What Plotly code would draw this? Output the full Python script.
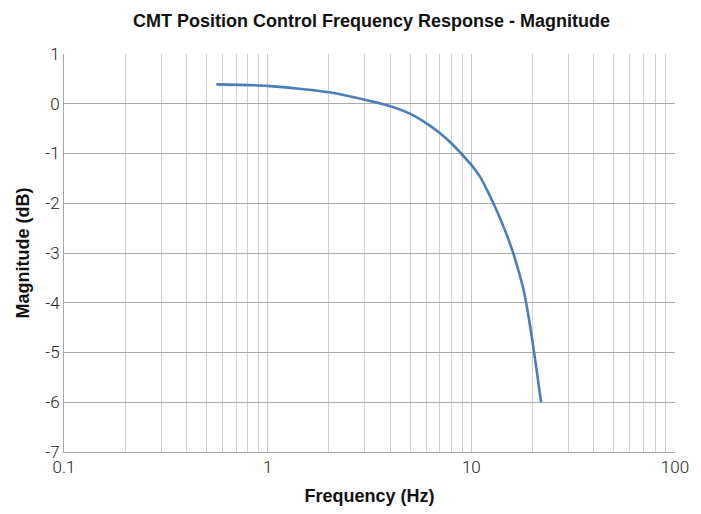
import plotly.graph_objects as go

# Measured closed-loop magnitude response
freq_hz = [0.56, 1, 2, 3, 4, 5, 6, 7, 8, 9, 10, 11, 12, 13, 14, 15, 16, 17, 18, 19, 20, 21, 22]
magnitude_db = [0.39, 0.36, 0.23, 0.08, -0.05, -0.20, -0.39, -0.59, -0.80, -1.02, -1.23, -1.46,
                -1.75, -2.05, -2.35, -2.66, -2.98, -3.34, -3.72, -4.22, -4.80, -5.40, -6.00]

x_tick_vals = [0.1, 1, 10, 100]
x_tick_text = ["0.1", "1", "10", "100"]
y_tick_vals = [-7, -6, -5, -4, -3, -2, -1, 0, 1]
y_tick_text = ["-7", "-6", "-5", "-4", "-3", "-2", "-1", "0", "1"]

title_font = dict(family="Liberation Sans Narrow, Arial Narrow, Liberation Sans", size=18, color="#111111")
tick_font = dict(family="Roboto, Liberation Sans, Arial", size=17, color="#222222", weight=300)

fig = go.Figure()
fig.add_trace(go.Scatter(
    x=freq_hz, y=magnitude_db, mode="lines",
    line=dict(color="#4a7ebb", width=2.6, shape="spline", smoothing=0.6),
    showlegend=False,
))

fig.update_layout(
    width=701, height=514,
    margin=dict(l=64, r=25, t=54, b=60),
    paper_bgcolor="white", plot_bgcolor="white",
    title=dict(text="<b>CMT Position Control Frequency Response - Magnitude</b>",
               x=0.53, xanchor="center", y=0.96, yanchor="middle", font=title_font),
)

fig.update_xaxes(
    type="log", range=[-1, 2],
    tickvals=x_tick_vals, ticktext=x_tick_text, tickfont=tick_font,
    showgrid=True, gridcolor="#c4c4c4", gridwidth=1,
    minor=dict(showgrid=True, gridcolor="#d0d0d0", gridwidth=1, dtick="D1"),
    showline=True, linecolor="#a6a6a6", linewidth=1,
    zeroline=False, ticks="",
    title=dict(text="<b>Frequency (Hz)</b>", font=title_font, standoff=12),
)
fig.update_yaxes(
    range=[-7, 1], tickvals=y_tick_vals, ticktext=y_tick_text, tickfont=tick_font,
    showgrid=True, gridcolor="#aaaaaa", gridwidth=1,
    showline=True, linecolor="#a6a6a6", linewidth=1,
    zeroline=False, ticks="",
    title=dict(text="<b>Magnitude (dB)</b>", font=title_font, standoff=10),
)

fig.write_html("out.html")
